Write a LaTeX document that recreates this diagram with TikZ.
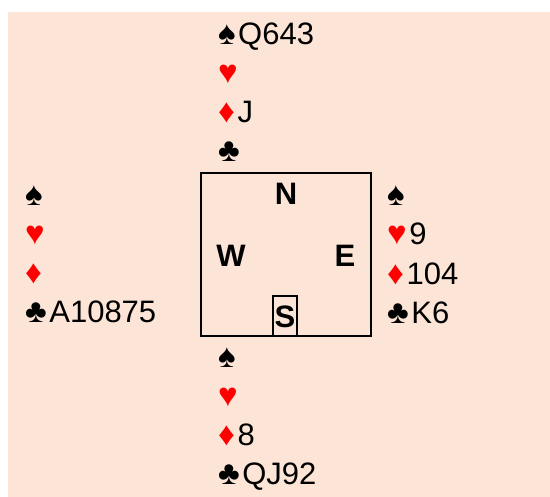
\documentclass[tikz,border=0pt]{standalone}
\usepackage{fontspec}
\setmainfont{Liberation Sans}
\definecolor{bg}{HTML}{FCE4D6}
\definecolor{suitred}{HTML}{FF0000}
\newcommand{\suitglyph}[2]{{\color{#1}\fontsize{33}{33}\selectfont #2}\hspace{2.5pt}}
\newcommand{\Sp}{\suitglyph{black}{♠}}
\newcommand{\Ht}{\suitglyph{suitred}{♥}}
\newcommand{\Di}{\suitglyph{suitred}{♦}}
\newcommand{\Cl}{\suitglyph{black}{♣}}
\tikzset{
  hand/.style={anchor=base west, inner sep=0pt, font=\fontsize{31}{31}\selectfont},
  seat/.style={inner sep=0pt, font=\fontsize{31}{31}\selectfont\bfseries},
}
\begin{document}
\begin{tikzpicture}[x=1pt,y=-1pt]
\useasboundingbox (0,0) rectangle (550,497);
\fill[bg] (8,12) rectangle (550,497);
% North
\node[hand] (n1) at (218,45) {\Sp Q643};
\node[hand] (n2) at (218,84) {\Ht};
\node[hand] (n3) at (218,123) {\Di J};
\node[hand] (n4) at (218,162) {\Cl};
% West
\node[hand] (w1) at (25,206) {\Sp};
\node[hand] (w2) at (25,245) {\Ht};
\node[hand] (w3) at (25,284) {\Di};
\node[hand] (w4) at (25,323) {\Cl A10875};
% East
\node[hand] (e1) at (387,206) {\Sp};
\node[hand] (e2) at (387,245) {\Ht 9};
\node[hand] (e3) at (387,285) {\Di 104};
\node[hand] (e4) at (387,324) {\Cl K6};
% South
\node[hand] (s1) at (218,368) {\Sp};
\node[hand] (s2) at (218,407) {\Ht};
\node[hand] (s3) at (218,446) {\Di 8};
\node[hand] (s4) at (218,485) {\Cl QJ92};
% Table
\draw[line width=1.6pt] (201,173) rectangle (371,336);
\node[seat] (N) at (286,194) {N};
\node[seat] (W) at (231,256) {W};
\node[seat] (E) at (345,256) {E};
\node[seat] (S) at (285,317) {S};
\draw[line width=1.6pt] (273,296) rectangle (297,336);
\end{tikzpicture}
\end{document}
